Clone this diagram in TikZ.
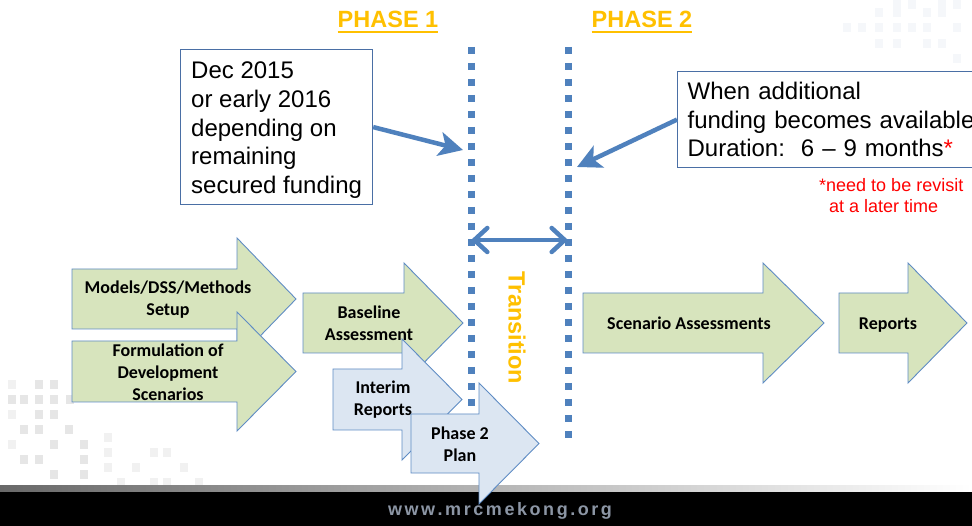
\documentclass[tikz,border=0pt]{standalone}
\usepackage{fontspec}
\setmainfont{Liberation Sans}
\newfontfamily\calib{Carlito}
\usetikzlibrary{arrows.meta}
\definecolor{dotblue}{HTML}{4F81BD}
\definecolor{phaseorange}{HTML}{FFC000}
\definecolor{arrgreen}{HTML}{D7E4BD}
\definecolor{arrblue}{HTML}{DCE6F2}
\definecolor{arrborder}{HTML}{5F8CC4}
\definecolor{boxborder}{HTML}{4A6FA5}
\definecolor{webgray}{HTML}{8C96A5}
\definecolor{decorA}{HTML}{E6E6E6}
\definecolor{decorB}{HTML}{F1F1F1}
\definecolor{decorC}{HTML}{F5F7FA}
\newcommand\blockarr[7]{\draw[#1] (#2,#3) -- (#5,#3) -- (#5,#6) -- (#7,{(#3+#4)/2}) -- (#5,{#3+#4-#6}) -- (#5,#4) -- (#2,#4) -- cycle;}
\tikzset{
  greenarr/.style={fill=arrgreen, draw=arrborder, line width=0.9pt, line join=miter},
  bluearr/.style={fill=arrblue, draw=arrborder, line width=0.9pt, line join=miter},
  lbl/.style={font=\calib\bfseries\fontsize{18}{22}\selectfont, align=center, text=black, inner sep=0pt},
  infobox/.style={draw=boxborder, line width=1.2pt, fill=white, font=\fontsize{24}{28.8}\selectfont, align=left, inner xsep=10pt, inner ysep=0pt},
  phase/.style={text=phaseorange, font=\bfseries\fontsize{23.5}{28}\selectfont, inner sep=0pt},
  note/.style={text=red, font=\fontsize{18}{21}\selectfont, inner sep=0pt},
  callout/.style={draw=dotblue, line width=4.5pt, -{Stealth[length=24pt,width=24pt,inset=6pt]}},
  dotline/.style={draw=dotblue, line width=7pt, dash pattern=on 7pt off 9pt},
  dblarr/.style={draw=dotblue, line width=4.5pt, line cap=round, {Straight Barb[length=13pt,width=24pt,line cap=round]}-{Straight Barb[length=13pt,width=24pt,line cap=round]}},
}
\begin{document}
\begin{tikzpicture}[x=1pt,y=-1pt]
\clip (0,0) rectangle (972,526);
\fill[white] (0,0) rectangle (972,526);
% decorative squares
\foreach \x/\y in {35/380,50/380,8/395,20/395,35/395,50/395,66/395,35/410,50/410,20/425,35/425,65/425,50/440,80/440,20/455,35/455,80/455,50/470,80/470}
  \fill[decorA] (\x,\y) rectangle +(8,9);
\foreach \x/\y in {8/380,8/410,8/440,104/433,104/448,104/463,150/448,163/448,132/463,150/478,163/478,180/463,195/478,117/478}
  \fill[decorB] (\x,\y) rectangle +(8,9);
\foreach \x/\y in {893/0,908/0,938/0,953/0,875/8,893/8,923/8,938/8,843/23,858/23,875/23,893/23,908/23,923/23,953/23,875/39,893/39,923/39,938/39,953/54}
  \fill[decorC] (\x,\y) rectangle +(8,9);
% bottom band
\shade[left color={rgb,255:red,105;green,105;blue,105}, right color=white] (0,485) rectangle (972,492);
\fill[black] (0,492) rectangle (972,526);
% dotted lines
\coordinate (l1top) at (471,47);
\coordinate (l1bot) at (471,410);
\coordinate (l2top) at (568,47);
\coordinate (l2bot) at (568,445);
\draw[dotline] (l1top) -- (l1bot);
\draw[dotline] (l2top) -- (l2bot);
\coordinate (d1) at (471,240);
\coordinate (d2) at (568,240);
\draw[dblarr] (d1) -- (d2);
% phase labels
\node[phase, anchor=base] (p1) at (388,28) {PHASE 1};
\draw[phaseorange, line width=1.8pt] ([yshift=-4pt]p1.base west) -- ([yshift=-4pt]p1.base east);
\node[phase, anchor=base] (p2) at (642,28) {PHASE 2};
\draw[phaseorange, line width=1.8pt] ([yshift=-4pt]p2.base west) -- ([yshift=-4pt]p2.base east);
\node[phase, rotate=-90] (trans) at (517,328) {Transition};
% info boxes
\node[infobox, minimum width=192pt, minimum height=155pt, anchor=north west] (box1) at (180,49)
  {\rule{0pt}{23pt}Dec 2015\\or early 2016\\depending on\\remaining\\secured funding};
\node[infobox, text width=290pt, minimum height=96pt, anchor=north west] (box2) at (677,71)
  {When additional\\funding becomes available\\Duration:\ \ 6 – 9 months\textcolor{red}{*}};
\coordinate (c1) at (463,150);
\coordinate (c2) at (577,167);
\draw[callout] (box1.east) -- (c1);
\draw[callout] (box2.west) -- (c2);
\node[note, anchor=base west] (n1) at (819,192) {*need to be revisit};
\node[note, anchor=base west] (n2) at (829,213) {at a later time};
% block arrows
\blockarr{greenarr}{72}{269}{329}{237}{238}{296}
\node[lbl] (a1) at (168,300) {Models/DSS/Methods\\Setup};
\blockarr{greenarr}{72}{341}{402}{237}{312}{296}
\node[lbl] (a2) at (168,372) {Formulation of\\Development\\Scenarios};
\blockarr{greenarr}{303}{293}{353}{404}{263}{463}
\node[lbl] (a3) at (369,323) {Baseline\\Assessment};
\blockarr{bluearr}{333}{369}{430}{402}{339}{462}
\node[lbl] (a4) at (383,400) {Interim\\Reports};
\blockarr{bluearr}{411}{414}{473}{479}{383}{539}
\node[lbl] (a5) at (460,444) {Phase 2\\Plan};
\blockarr{greenarr}{583}{293}{353}{763}{263}{824}
\node[lbl, anchor=base] (a6) at (689,330) {Scenario Assessments};
\blockarr{greenarr}{839}{293}{353}{908}{263}{967}
\node[lbl, anchor=base] (a7) at (888,330) {Reports};
% website
\node[anchor=base, text=webgray, font=\bfseries\fontsize{18}{20}\selectfont, inner sep=0pt] (web) at (500,515)
  {\hbox to 224pt{w\hfil w\hfil w\hfil .\hfil m\hfil r\hfil c\hfil m\hfil e\hfil k\hfil o\hfil n\hfil g\hfil .\hfil o\hfil r\hfil g}};
\end{tikzpicture}
\end{document}
